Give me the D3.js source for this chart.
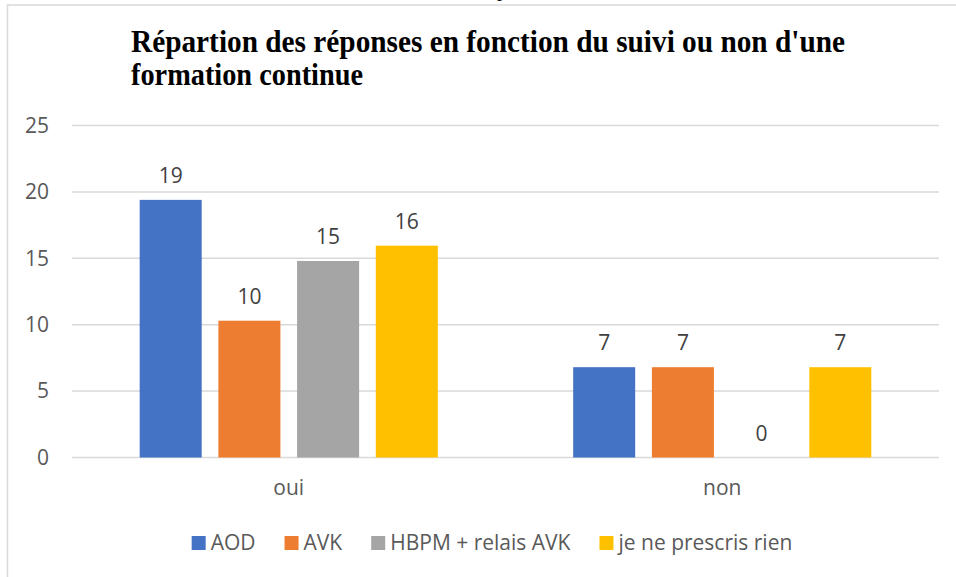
<!DOCTYPE html>
<html>
<head>
<meta charset="utf-8">
<script src="https://cdn.jsdelivr.net/npm/d3@7"></script>
<style>
  body { margin: 0; background: #fff; }
  svg { display: block; }
</style>
</head>
<body>
<svg id="chart" width="956" height="577"></svg>
<script>
// values (labels are rounded to whole numbers)
const categories = ["oui", "non"];
const series = ["AOD", "AVK", "HBPM + relais AVK", "je ne prescris rien"];
const colors = ["#4472C4", "#ED7D31", "#A5A5A5", "#FFC000"];
const ouiValues = [19.4, 10.3, 14.8, 15.95];
const nonValues = [6.8, 6.8, 0, 6.8];
const yTicks = [0, 5, 10, 15, 20, 25];
const titleLines = ["Répartion des réponses en fonction du suivi ou non d'une", "formation continue"];

const values = { oui: ouiValues, non: nonValues };

const svg = d3.select("#chart");
const W = 956, H = 577;
const margin = { top: 125.5, right: 17, bottom: 119.5, left: 72 };

const grey = "#595959";
const sans = "'Open Sans', sans-serif";
const fs = 21;

// scrap of the text above the chart in the document
svg.append("text")
  .attr("x", 497).attr("y", -4)
  .attr("font-family", "'Liberation Serif', serif")
  .attr("font-size", 20)
  .text("p");

// chart frame (only top and left edges are in view)
svg.append("rect")
  .attr("x", 7.5).attr("y", 5)
  .attr("width", 1000).attr("height", 700)
  .attr("fill", "none")
  .attr("stroke", "#d9d9d9")
  .attr("stroke-width", 1.5);

// title
const title = svg.append("g")
  .attr("font-family", "'Liberation Serif', 'Times New Roman', serif")
  .attr("font-weight", "bold")
  .attr("font-size", 31)
  .attr("fill", "#000");
title.append("text").attr("x", 131).attr("y", 52)
  .attr("textLength", 714).attr("lengthAdjust", "spacingAndGlyphs")
  .text(titleLines[0]);
title.append("text").attr("x", 131).attr("y", 85)
  .attr("textLength", 232).attr("lengthAdjust", "spacingAndGlyphs")
  .text(titleLines[1]);

const x0 = d3.scaleBand()
  .domain(categories)
  .range([margin.left, W - margin.right])
  .padding(0);

const x1 = d3.scaleBand()
  .domain(series)
  .range([0, x0.bandwidth()])
  .paddingInner(0.212)
  .paddingOuter(0.86);

const y = d3.scaleLinear()
  .domain([0, 25])
  .range([H - margin.bottom, margin.top]);

// gridlines
svg.append("g")
  .selectAll("line")
  .data(yTicks)
  .join("line")
  .attr("x1", margin.left)
  .attr("x2", W - margin.right)
  .attr("y1", d => y(d))
  .attr("y2", d => y(d))
  .attr("stroke", "#d9d9d9")
  .attr("stroke-width", 1.5);

// y axis labels
const yAxis = svg.append("g")
  .attr("transform", `translate(${margin.left - 20},0)`)
  .call(d3.axisLeft(y).tickValues(yTicks).tickSize(0).tickPadding(3));
yAxis.select(".domain").remove();
yAxis.selectAll("text")
  .attr("font-family", sans)
  .attr("font-size", fs)
  .attr("fill", grey);

// bars
const groups = svg.append("g")
  .selectAll("g")
  .data(categories)
  .join("g")
  .attr("transform", d => `translate(${x0(d)},0)`);

const fmt = d3.format(".0f");

groups.selectAll("rect")
  .data(c => series.map((s, i) => ({ s, i, v: values[c][i] })))
  .join("rect")
  .attr("x", d => x1(d.s))
  .attr("width", x1.bandwidth())
  .attr("y", d => y(d.v))
  .attr("height", d => y(0) - y(d.v))
  .attr("fill", d => colors[d.i]);

groups.selectAll("text")
  .data(c => series.map((s, i) => ({ s, i, v: values[c][i] })))
  .join("text")
  .attr("x", d => x1(d.s) + x1.bandwidth() / 2)
  .attr("y", d => y(d.v) - 17)
  .attr("text-anchor", "middle")
  .attr("font-family", sans)
  .attr("font-size", fs)
  .attr("fill", "#404040")
  .text(d => fmt(d.v));

// category labels
const xAxis = svg.append("g")
  .attr("transform", `translate(0,${y(0)})`)
  .call(d3.axisBottom(x0).tickSize(0).tickPadding(23));
xAxis.select(".domain").remove();
xAxis.selectAll("text")
  .attr("font-family", sans)
  .attr("font-size", fs)
  .attr("fill", grey);

// legend
const legend = svg.append("g")
  .attr("font-family", sans)
  .attr("font-size", fs)
  .attr("fill", grey);

let lx = 0;
series.forEach((s, i) => {
  const g = legend.append("g");
  g.append("rect")
    .attr("x", 0).attr("y", -7)
    .attr("width", 14).attr("height", 14)
    .attr("fill", colors[i]);
  const t = g.append("text")
    .attr("x", 19).attr("dy", "0.35em")
    .text(s);
  const w = 19 + t.node().getComputedTextLength();
  g.attr("transform", `translate(${lx},0)`);
  lx += w + 29;
});
const legendWidth = lx - 29;
legend.attr("transform", `translate(${492 - legendWidth / 2},${543})`);
</script>
</body>
</html>
